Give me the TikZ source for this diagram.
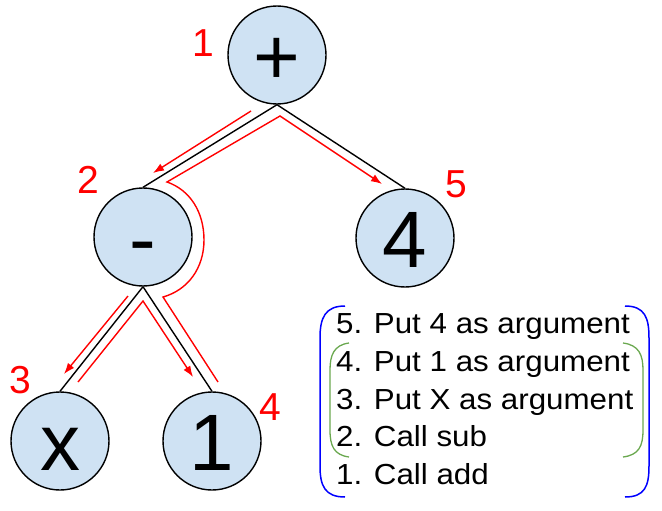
\documentclass[tikz,border=0pt]{standalone}
\usepackage{fontspec}
\setmainfont{Liberation Sans}
\newfontfamily\listfont[FakeStretch=1.08]{Liberation Sans}
\usetikzlibrary{arrows.meta}
\definecolor{nodefill}{RGB}{207,226,243}
\definecolor{brgreen}{RGB}{106,168,79}
\tikzset{
  tnode/.style={circle, draw=black, line width=1.4pt, fill=nodefill, minimum size=98pt, inner sep=0pt,
    font=\fontsize{80}{80}\selectfont, text height=59pt, text depth=0pt},
  redlab/.style={text=red, font=\fontsize{39}{39}\selectfont, inner sep=0pt},
  edge/.style={line width=1.4pt, black},
  trace/.style={line width=1.4pt, red},
  tracearrow/.style={trace, -{Latex[length=11pt,width=8pt]}},
  listtext/.style={anchor=base west, inner sep=0pt, font=\listfont\fontsize{29}{29}\selectfont},
  bluebr/.style={line width=1.5pt, blue},
  greenbr/.style={line width=1.3pt, brgreen}
}
\begin{document}
\begin{tikzpicture}[x=1pt,y=-1pt]
\useasboundingbox (0,0) rectangle (662,511);
% tree nodes
\node[tnode] (plus) at (277,55) {+};
\node[tnode] (minus) at (143,237) {-};
\node[tnode] (four) at (405,238) {4};
\node[tnode] (xx) at (60,441) {x};
\node[tnode] (one) at (212,441) {1};
% edges
\draw[edge] (plus.south) -- (minus.north);
\draw[edge] (plus.south) -- (four.north);
\draw[edge] (minus.south) -- (xx.north);
\draw[edge] (minus.south) -- (one.north);
% red labels
\node[redlab] (n1) at (203,43) {1};
\node[redlab] (n2) at (88,180) {2};
\node[redlab] (n3) at (20,380) {3};
\node[redlab] (n4) at (270,407) {4};
\node[redlab] (n5) at (456,184) {5};
% trace coordinates
\coordinate (a1) at (251,111);
\coordinate (a2) at (153,173);
\coordinate (b1) at (128,296);
\coordinate (b2) at (64,374);
\coordinate (c1) at (78,382);
\coordinate (c2) at (143,301);
\coordinate (c3) at (193,377);
\coordinate (d1) at (218,382);
\coordinate (d2) at (163,297);
\coordinate (d3) at (204,240);
\coordinate (d4) at (167,182);
\coordinate (d5) at (280,116);
\coordinate (d6) at (382,184);
\draw[tracearrow] (a1) -- (a2);
\draw[tracearrow] (b1) -- (b2);
\draw[tracearrow] (c1) -- (c2) -- (c3);
\draw[tracearrow] (d1) -- (d2) .. controls (188,290) and (204,268) .. (d3)
  .. controls (204,212) and (190,190) .. (d4) -- (d5) -- (d6);
% list
\node[listtext] (l5) at (336,333) {5. Put 4 as argument};
\node[listtext] (l4) at (336,371.5) {4. Put 1 as argument};
\node[listtext] (l3) at (336,409) {3. Put X as argument};
\node[listtext] (l2) at (336,446.5) {2. Call sub};
\node[listtext] (l1) at (336,484) {1. Call add};
% brackets
\draw[bluebr] (345,306) .. controls (325,306) and (320,318) .. (320,338) -- (320,466)
  .. controls (320,486) and (325,497) .. (345,497);
\draw[bluebr] (625,306) .. controls (645,306) and (649,318) .. (649,338) -- (649,466)
  .. controls (649,486) and (645,497) .. (625,497);
\draw[greenbr] (349,343) .. controls (334,345) and (330,355) .. (330,370) -- (330,430)
  .. controls (330,446) and (334,455) .. (349,457);
\draw[greenbr] (623,343) .. controls (639,345) and (643,355) .. (643,370) -- (643,430)
  .. controls (643,446) and (639,455) .. (623,457);
\end{tikzpicture}
\end{document}
